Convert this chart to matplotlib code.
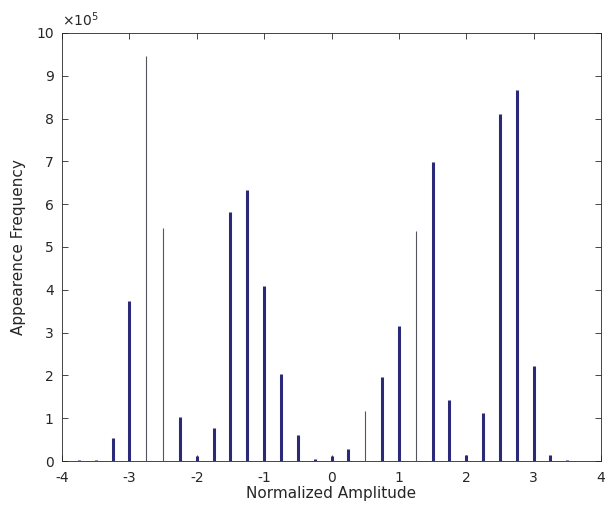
import matplotlib
matplotlib.use('Agg')
import matplotlib.pyplot as plt
import numpy as np

plt.rcParams['axes.unicode_minus'] = False

# bin centres (normalized amplitude) and counts (units of 1e5)
amp = np.arange(-3.75, 3.51, 0.25)
freq = [0.03, 0.03, 0.53, 3.74, 9.45, 5.45, 1.03, 0.12, 0.77, 5.81,
        6.33, 4.09, 2.03, 0.61, 0.05, 0.12, 0.27, 1.18, 1.96, 3.16,
        5.38, 6.98, 1.43, 0.14, 1.12, 8.11, 8.67, 2.23, 0.14, 0.03]
thin = [-2.75, -2.5, 0.5, 1.25]

fig = plt.figure(figsize=(6.05, 5.14), dpi=100)
ax = fig.add_axes([0.1025, 0.103, 0.8909, 0.833])

is_thin = np.array([np.isclose(thin, a).any() for a in amp])
freq = np.array(freq)
ax.vlines(amp[~is_thin], 0, freq[~is_thin], color='#2a2a78', linewidth=2.2)
ax.vlines(amp[is_thin], 0, freq[is_thin], color='#55555f', linewidth=0.8)

ax.set_xlim(-4, 4)
ax.set_ylim(0, 10)
ax.set_xticks(range(-4, 5))
ax.set_yticks(range(0, 11))
ax.tick_params(direction='in', top=True, right=True, labelsize=10,
               colors='#262626', length=4, width=0.6)
ax.tick_params(axis='x', pad=7)
ax.tick_params(axis='y', pad=6)
for s in ax.spines.values():
    s.set_color('#262626')
    s.set_linewidth(0.6)

ax.set_xlabel('Normalized Amplitude', fontsize=11, color='#262626', labelpad=1)
ax.set_ylabel('Appearence Frequency', fontsize=11, color='#262626', labelpad=7)
ax.text(0.0, 1.01, r'$\times10^5$', transform=ax.transAxes, fontsize=10,
        color='#262626', ha='left', va='bottom')

fig.savefig('out.png', dpi=100)
